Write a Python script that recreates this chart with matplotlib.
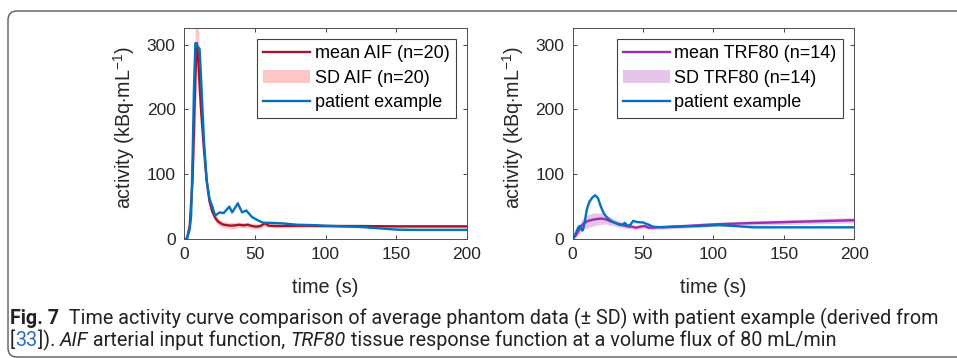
import numpy as np
import matplotlib.pyplot as plt
from matplotlib.patches import FancyBboxPatch
from matplotlib.transforms import IdentityTransform

plt.rcParams['font.family'] = ['Liberation Sans', 'DejaVu Sans']
plt.rcParams['mathtext.fontset'] = 'custom'
plt.rcParams['mathtext.rm'] = 'Liberation Sans'
plt.rcParams['mathtext.it'] = 'Liberation Sans:italic'

# ---- data ----
aif_t = [0, 2, 4, 6, 8, 9, 10, 12, 14, 16, 18, 20, 22, 24, 26, 28, 30, 33, 36, 39,
         42, 45, 48, 51, 54, 57, 60, 65, 70, 80, 100, 125, 150, 175, 200]
aif_mean = [0, 0, 20, 90, 250, 302, 280, 200, 140, 90, 58, 42, 33, 27, 24, 22, 21.5, 20.5, 21, 22,
            21, 22, 20, 19, 20, 24, 20.5, 20, 20, 20.5, 20, 20, 19.5, 19.5, 19.5]
aif_sd = [0, 1, 6, 15, 85, 45, 55, 20, 12, 9, 7, 6, 6, 6, 5, 5, 5, 5, 5, 4,
          4, 4, 4, 4, 4, 4, 3, 3, 3, 3, 2.5, 2.5, 2.5, 2.5, 2.5]

aif_pat_t = [0, 2, 4, 5, 6, 7, 8, 10, 11, 12, 14, 16, 18, 20, 22, 25, 28, 32, 34, 38,
             41, 44, 48, 52, 56, 60, 70, 80, 90, 100, 125, 150, 160, 200]
aif_pat = [0, 0, 15, 35, 120, 230, 302, 296, 293, 250, 155, 90, 62, 50, 36, 41, 40, 50, 41, 55,
           41, 44, 34, 29, 25, 25, 24, 22, 21.5, 20.5, 18.5, 14.5, 14, 14]

trf_t = [0, 2, 4, 6, 8, 10, 12, 14, 16, 18, 20, 22, 24, 26, 28, 30, 33, 36, 39, 42,
         45, 48, 51, 54, 57, 60, 65, 70, 80, 100, 125, 150, 175, 200]
trf_mean = [0, 5, 12, 20, 24, 27, 28.5, 29.5, 30.5, 31, 31.5, 31, 30, 28, 26.5, 25, 23, 21, 19.5, 19,
            17.5, 19, 20, 17.5, 17.5, 18, 18.5, 19, 20, 22.5, 24.5, 26, 27.5, 29]
trf_sd = [0, 3, 6, 8, 9, 10, 10, 10, 10, 9, 9, 8, 7, 7, 6, 5, 5, 4, 4, 3,
          3, 3, 3, 3, 3, 3, 3, 3, 3, 3, 3.5, 3.5, 4, 4]

trf_pat_t = [0, 2, 4, 5, 6, 7, 8, 9, 10, 11, 12, 14, 16, 18, 20, 22, 24, 26, 28, 30,
             32, 34, 36, 37, 39, 41, 43, 46, 50, 54, 57, 60, 64, 70, 80, 90, 104, 115, 128, 150, 200]
trf_pat = [0, 8, 18, 20, 16, 13, 20, 32, 45, 52, 58, 64, 67.5, 63, 50, 40, 34, 30, 27, 25,
           23, 21.5, 23, 25, 20, 22, 28, 26, 25.5, 22, 19, 18.5, 18, 18.5, 19.5, 20, 21.5, 20, 18, 18, 18]

blue = '#0072BD'
red = '#A2142F'
pink = '#FFC6C6'
purple = '#9A2FB0'
lilac = '#E6C4EC'

fig = plt.figure(figsize=(9.57, 3.58), dpi=100)
ax1 = fig.add_axes([0.1923, 0.3324, 0.2957, 0.5885])
ax2 = fig.add_axes([0.5984, 0.3324, 0.2943, 0.5885])

panels = [
    (ax1, aif_t, aif_mean, aif_sd, aif_pat_t, aif_pat, red, pink,
     'mean AIF (n=20)', 'SD AIF (n=20)'),
    (ax2, trf_t, trf_mean, trf_sd, trf_pat_t, trf_pat, purple, lilac,
     'mean TRF80 (n=14)', 'SD TRF80 (n=14)'),
]

cap_font = ['Roboto', 'DejaVu Sans']

for ax, t, m, sd, pt, pv, lc, fc, lab_m, lab_sd in panels:
    m = np.array(m)
    sd = np.array(sd)
    band = ax.fill_between(t, m - sd, m + sd, color=fc, lw=0, label=lab_sd)
    lm, = ax.plot(t, m, color=lc, lw=1.7, label=lab_m)
    lp, = ax.plot(pt, pv, color=blue, lw=1.7, label='patient example')
    ax.set_xlim(0, 200)
    ax.set_ylim(0, 325)
    ax.set_xticks([0, 50, 100, 150, 200])
    ax.set_yticks([0, 100, 200, 300])
    ax.tick_params(direction='in', length=3, width=0.6, top=True, right=True,
                   labelsize=12.5, colors='#262626', pad=6)
    for s in ax.spines.values():
        s.set_color('#505050')
        s.set_linewidth(0.7)
    ax.set_ylabel(r'activity (kBq$\cdot$mL$^{-1}$)', fontsize=14.2, color='#262626')
    ax.yaxis.set_label_coords(-0.165, 0.53)
    ax.set_xlabel('time (s)', fontsize=14.3, color='#262626', va='center')
    ax.xaxis.set_label_coords(0.5, -0.23)
    leg = ax.legend([lm, band, lp], [lab_m, lab_sd, 'patient example'], loc='upper right',
                    bbox_to_anchor=(0.96, 0.95),
                    fontsize=13, fancybox=False, framealpha=1, edgecolor='#404040',
                    handlelength=2.6, handletextpad=0.25, borderpad=0.35,
                    labelspacing=0.42, borderaxespad=0)
    leg.get_frame().set_linewidth(0.8)

# rounded frame around the figure panel
box = FancyBboxPatch((8, 1), 1000, 346, boxstyle='round,pad=0,rounding_size=9',
                     transform=IdentityTransform(), fill=False, ec='#5a5a5a', lw=1.0)
fig.add_artist(box)

# caption with mixed styles
renderer = fig.canvas.get_renderer()


def runs(x, y, parts, size=14.2):
    for txt, kw in parts:
        opts = dict(color='#222222')
        opts.update(kw)
        tt = fig.text(x, y, txt, transform=IdentityTransform(), fontsize=size,
                      family=cap_font, va='baseline', ha='left', **opts)
        x = tt.get_window_extent(renderer).x1


runs(10, 358 - 324, [('Fig. 7', dict(weight='bold')),
                     ('  Time activity curve comparison of average phantom data (\u00b1 SD) with patient example (derived from', {})])
runs(10, 358 - 346, [('[', {}), ('33', dict(color='#2a6ebb')), (']). ', {}),
                     ('AIF', dict(style='italic')), (' arterial input function, ', {}),
                     ('TRF80', dict(style='italic')),
                     (' tissue response function at a volume flux of 80 mL/min', {})])

fig.savefig('out.png', dpi=100)
